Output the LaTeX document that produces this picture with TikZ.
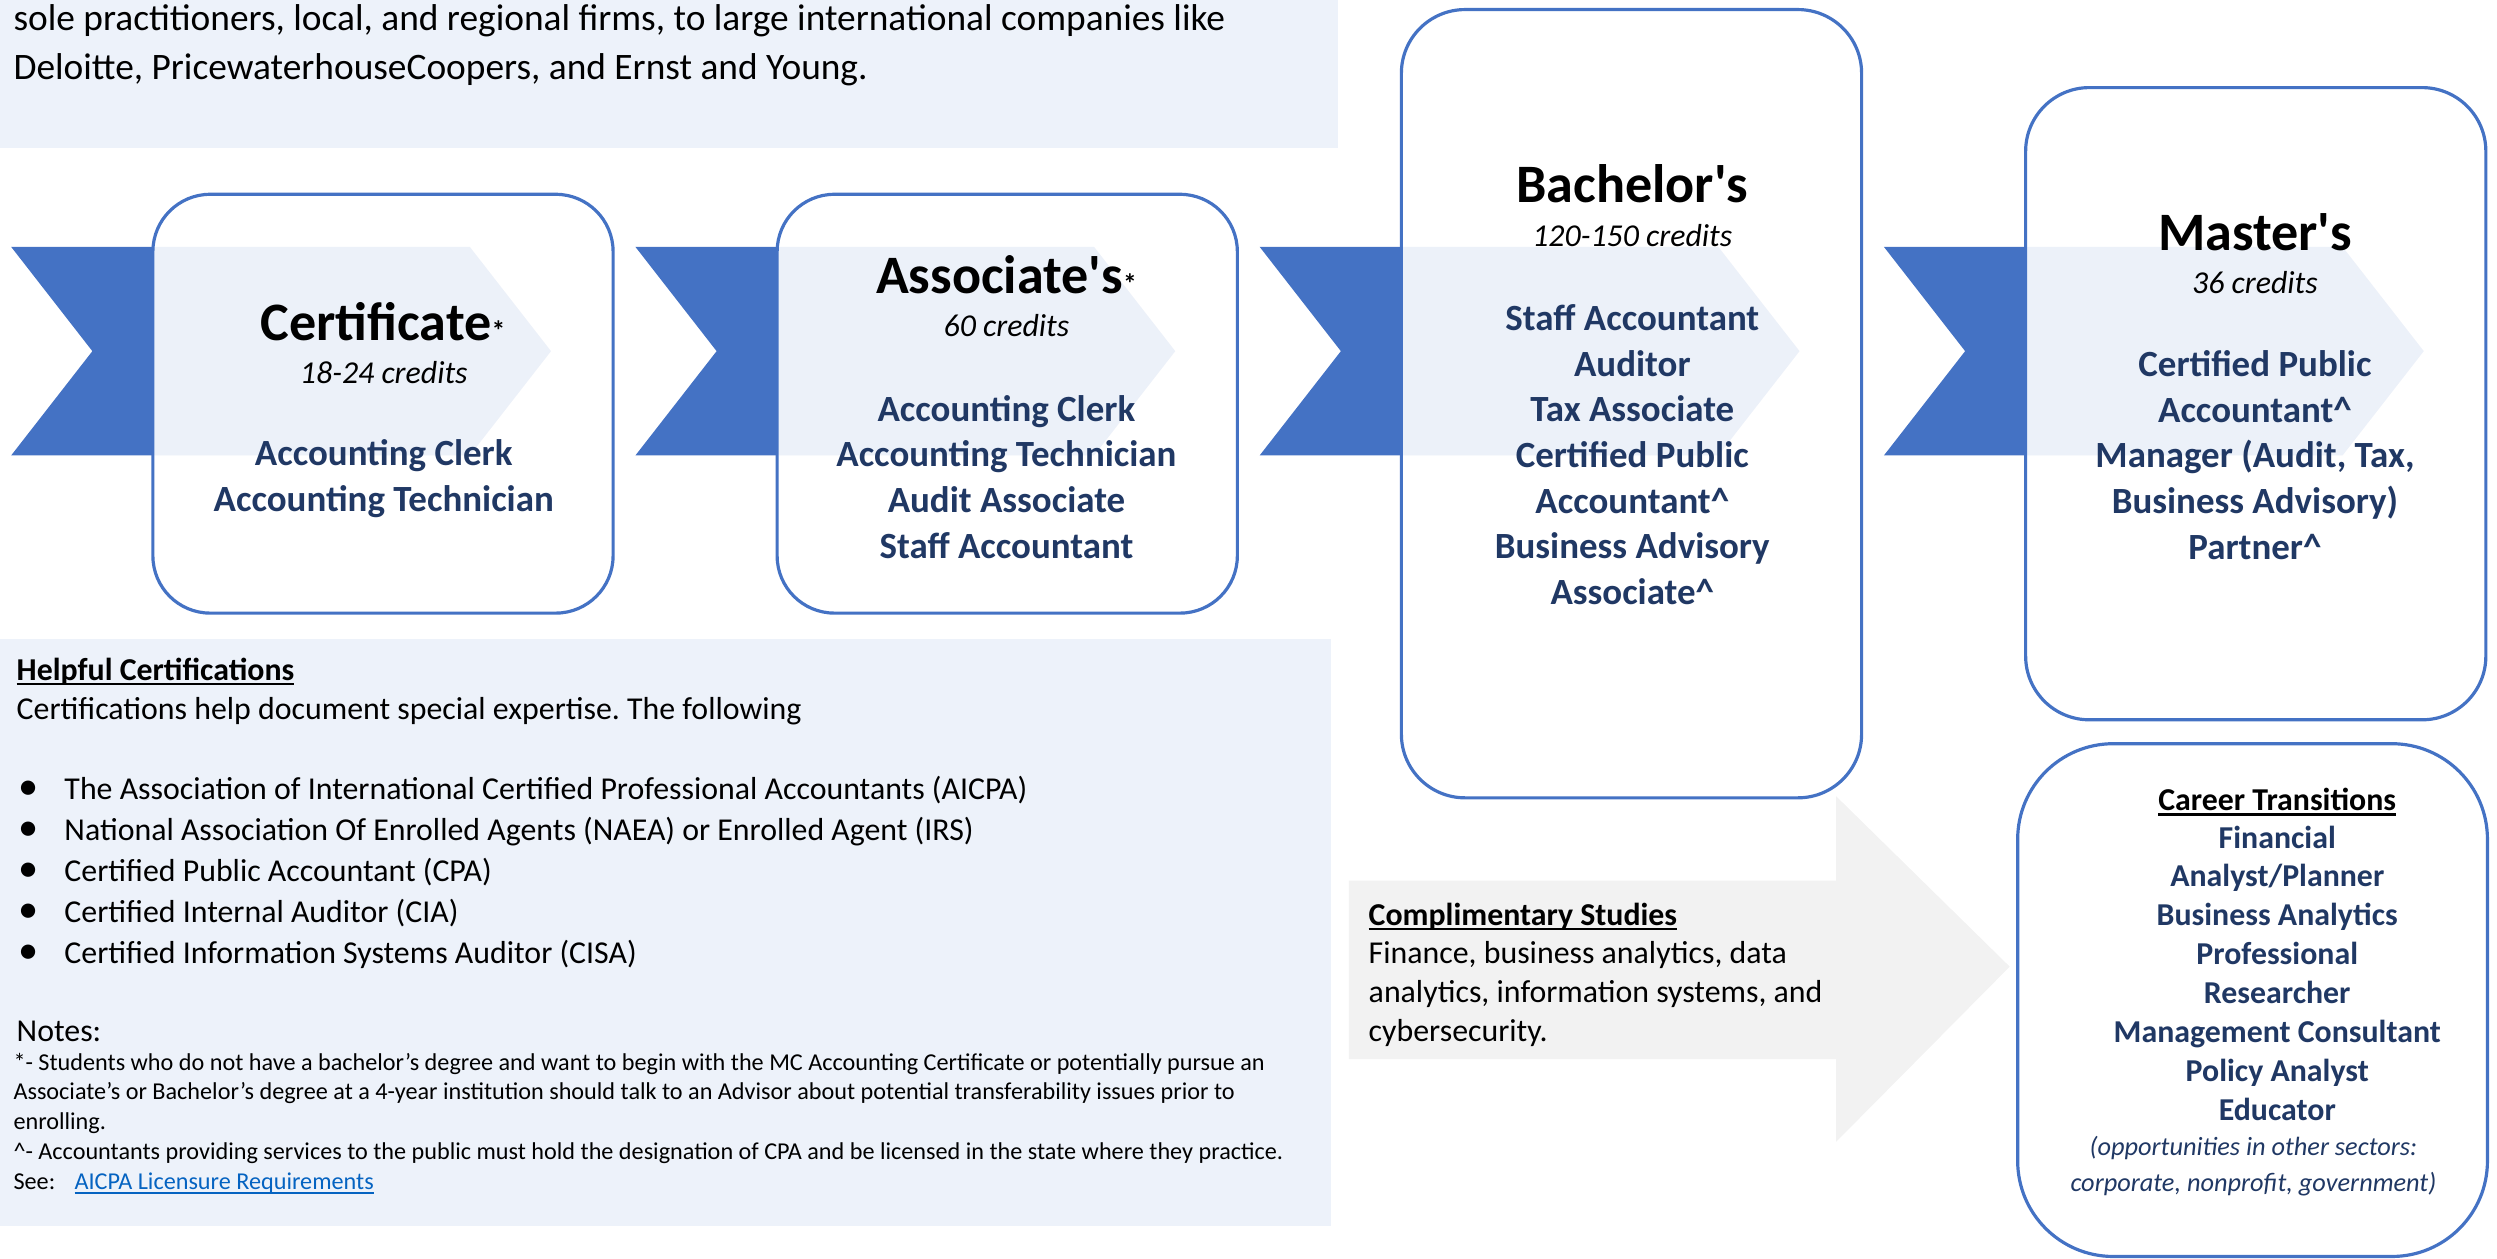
\documentclass[tikz,border=0pt]{standalone}
\usepackage{fontspec}
\setmainfont{Carlito}
\frenchspacing

\newsavebox{\ulbox}
\newcommand{\thickul}[1]{\sbox{\ulbox}{#1}\rlap{\rule[-2.4pt]{\wd\ulbox}{1.1pt}}\usebox{\ulbox}}
\newcommand{\listdot}{\makebox[21.75pt][l]{\fontsize{19}{19}\selectfont\textbullet}}

\definecolor{chevblue}{RGB}{68,114,196}
\definecolor{navytext}{RGB}{32,56,100}
\definecolor{panelblue}{RGB}{237,242,250}
\definecolor{arrowgray}{RGB}{242,242,242}
\definecolor{linkblue}{RGB}{5,99,193}

\tikzset{every picture/.style={line width=0.75pt}}
\tikzset{
  panel/.style={fill=panelblue},
  chevron/.style={fill=chevblue},
  stagebox/.style={draw=chevblue, line width=1.5pt, fill=white, fill opacity=0.9, rounded corners=27pt},
  degree/.style={font=\fontsize{25.5}{30}\selectfont\bfseries, inner sep=0pt, anchor=base},
  credits/.style={font=\fontsize{15}{18}\selectfont\itshape, inner sep=0pt, anchor=base},
  jobs/.style={font=\fontsize{17.4}{21.5}\selectfont\bfseries, text=navytext, align=center, inner sep=0pt, anchor=base},
  bodytext/.style={font=\fontsize{15}{19.3}\selectfont, align=left, inner sep=0pt, anchor=base west},
}

\begin{document}
\begin{tikzpicture}[x=0.75pt,y=0.75pt,yscale=-1,xscale=1]
\useasboundingbox (0,0) rectangle (1568,790);

%Shape: Rectangle [intro panel]
\fill [panel] (0,0) rectangle (840,93);
%Shape: Rectangle [certifications panel]
\fill [panel] (0,401) rectangle (836,770);
%Shape: Right Arrow [complimentary studies]
\fill [arrowgray] (847,553) -- (1153,553) -- (1153,500) -- (1262,607) -- (1153,717) -- (1153,665) -- (847,665) -- cycle ;

%Shape: Chevron
\fill [chevron] (7,155) -- (295,155) -- (346,220.5) -- (295,286) -- (7,286) -- (58,220.5) -- cycle ;
%Shape: Chevron
\fill [chevron] (399,155) -- (687,155) -- (738,220.5) -- (687,286) -- (399,286) -- (450,220.5) -- cycle ;
%Shape: Chevron
\fill [chevron] (791,155) -- (1079,155) -- (1130,220.5) -- (1079,286) -- (791,286) -- (842,220.5) -- cycle ;
%Shape: Chevron
\fill [chevron] (1183,155) -- (1471,155) -- (1522,220.5) -- (1471,286) -- (1183,286) -- (1234,220.5) -- cycle ;

%Shape: Rounded Rect [certificate]
\draw [stagebox] (96,122) rectangle (385,385) ;
%Shape: Rounded Rect [associate]
\draw [stagebox] (488,122) rectangle (777,385) ;
%Shape: Rounded Rect [bachelor]
\draw [stagebox, rounded corners=30pt] (880,6) rectangle (1169,501) ;
%Shape: Rounded Rect [master]
\draw [stagebox, rounded corners=30pt] (1272,55) rectangle (1561,452) ;
%Shape: Rounded Rect [career transitions]
\draw [stagebox, rounded corners=45pt] (1267,467) rectangle (1562,789) ;

% Text Node
\node (intro) [bodytext, font=\fontsize{17.6}{23.25}\selectfont] at (8,50) {sole practitioners, local, and regional firms, to large international companies like\\Deloitte, PricewaterhouseCoopers, and Ernst and Young.};

% Text Node
\node (certtitle) [degree] at (240.5,214) {Certificate{\fontsize{13}{13}\selectfont *}};
% Text Node
\node (certcredits) [credits] at (241,241) {18-24 credits};
% Text Node
\node (certjobs) [jobs] at (241,321.2) {Accounting Clerk\\Accounting Technician};

% Text Node
\node (assoctitle) [degree] at (632,184) {Associate\textquotesingle s{\fontsize{13}{13}\selectfont *}};
% Text Node
\node (assoccredits) [credits] at (632,211.5) {60 credits};
% Text Node
\node (assocjobs) [jobs] at (632,350.5) {Accounting Clerk\\Accounting Technician\\Audit Associate\\Staff Accountant};

% Text Node
\node (bachtitle) [degree] at (1025,127) {Bachelor\textquotesingle s};
% Text Node
\node (bachcredits) [credits] at (1025,154.5) {120-150 credits};
% Text Node
\node (bachjobs) [jobs] at (1025,379.5) {Staff Accountant\\Auditor\\Tax Associate\\Certified Public\\Accountant\textasciicircum\\Business Advisory\\Associate\textasciicircum};

% Text Node
\node (mastitle) [degree] at (1416,157) {Master\textquotesingle s};
% Text Node
\node (mascredits) [credits] at (1416,184.5) {36 credits};
% Text Node
\node (masjobs) [jobs] at (1416,351.2) {Certified Public\\Accountant\textasciicircum\\Manager (Audit, Tax,\\Business Advisory)\\Partner\textasciicircum};

% Text Node
\node (helptitle) [bodytext] at (10,427) {\thickul{\textbf{Helpful Certifications}}};
% Text Node
\node (helptext) [bodytext] at (10,452) {Certifications help document special expertise. The following};
% Text Node
\node (certlist) [bodytext] at (11,604.9) {\listdot The Association of International Certified Professional Accountants (AICPA)\\
\listdot National Association Of Enrolled Agents (NAEA) or Enrolled Agent (IRS)\\
\listdot Certified Public Accountant (CPA)\\
\listdot Certified Internal Auditor (CIA)\\
\listdot Certified Information Systems Auditor (CISA)};
% Text Node
\node (notestitle) [bodytext] at (10,654) {Notes:};
% Text Node
\node (notes) [bodytext, font=\fontsize{11.4}{14}\selectfont] at (8,746.7) {*- Students who do not have a bachelor’s degree and want to begin with the MC Accounting Certificate or potentially pursue an\\
Associate’s or Bachelor’s degree at a 4-year institution should talk to an Advisor about potential transferability issues prior to\\
enrolling.\\
\textasciicircum- Accountants providing services to the public must hold the designation of CPA and be licensed in the state where they practice.\\
See:\hspace{0.8em}{\color{linkblue}\thickul{AICPA Licensure Requirements}}};

% Text Node
\node (studies) [bodytext, font=\fontsize{15}{18.2}\selectfont] at (859,653.8) {\thickul{\textbf{Complimentary Studies}}\\Finance, business analytics, data\\analytics, information systems, and\\cybersecurity.};

% Text Node
\node (careertitle) [jobs, text=black, font=\fontsize{15}{18.3}\selectfont\bfseries] at (1430,509) {\thickul{Career Transitions}};
% Text Node
\node (careerjobs) [jobs, font=\fontsize{15}{18.3}\selectfont\bfseries] at (1430,703.3) {Financial\\Analyst/Planner\\Business Analytics\\Professional\\Researcher\\Management Consultant\\Policy Analyst\\Educator};
% Text Node
\node (sectors) [jobs, font=\fontsize{12.4}{17.25}\selectfont\itshape] at (1415,748.5) {(opportunities in other sectors:\\corporate, nonprofit, government)};

\end{tikzpicture}
\end{document}
